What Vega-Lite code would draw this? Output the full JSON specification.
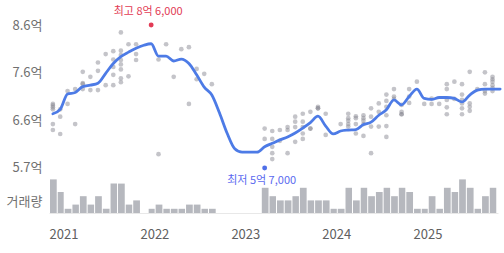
{
  "$schema": "https://vega.github.io/schema/vega-lite/v6.json",
  "width": 449,
  "height": 208,
  "autosize": {"type": "none"},
  "padding": {"left": 49, "top": 5, "right": 6, "bottom": 40},
  "config": {"view": {"stroke": null}, "font": "Noto Sans CJK KR"},
  "datasets": {
    "vol": [
      {"m":"2021-01","n":8},{"m":"2021-02","n":5},{"m":"2021-03","n":1},{"m":"2021-04","n":2},{"m":"2021-05","n":4},{"m":"2021-06","n":2},{"m":"2021-07","n":4},{"m":"2021-08","n":1},{"m":"2021-09","n":7},{"m":"2021-10","n":7},{"m":"2021-11","n":2},{"m":"2021-12","n":3},
      {"m":"2022-02","n":1},{"m":"2022-03","n":2},{"m":"2022-04","n":1},{"m":"2022-05","n":1},{"m":"2022-06","n":1},{"m":"2022-07","n":2},{"m":"2022-08","n":2},{"m":"2022-09","n":1},{"m":"2022-10","n":1},
      {"m":"2023-05","n":6},{"m":"2023-06","n":4},{"m":"2023-07","n":3},{"m":"2023-08","n":3},{"m":"2023-09","n":4},{"m":"2023-10","n":6},{"m":"2023-11","n":3},{"m":"2023-12","n":3},
      {"m":"2024-01","n":3},{"m":"2024-02","n":1},{"m":"2024-03","n":1},{"m":"2024-04","n":6},{"m":"2024-05","n":3},{"m":"2024-06","n":6},{"m":"2024-07","n":4},{"m":"2024-08","n":5},{"m":"2024-09","n":6},{"m":"2024-10","n":4},{"m":"2024-11","n":6},{"m":"2024-12","n":5},
      {"m":"2025-01","n":1},{"m":"2025-02","n":1},{"m":"2025-03","n":4},{"m":"2025-04","n":1},{"m":"2025-05","n":6},{"m":"2025-06","n":5},{"m":"2025-07","n":8},{"m":"2025-08","n":6},{"m":"2025-09","n":1},{"m":"2025-10","n":4},{"m":"2025-11","n":6}
    ],
    "trend": [
      {"m":"2021-01","v":6.80},{"m":"2021-02","v":6.89},{"m":"2021-03","v":7.20},{"m":"2021-04","v":7.23},{"m":"2021-05","v":7.35},{"m":"2021-06","v":7.38},{"m":"2021-07","v":7.42},{"m":"2021-08","v":7.62},{"m":"2021-09","v":7.82},{"m":"2021-10","v":7.96},{"m":"2021-11","v":8.05},{"m":"2021-12","v":8.13},
      {"m":"2022-01","v":8.19},{"m":"2022-02","v":8.22},{"m":"2022-03","v":7.97},{"m":"2022-04","v":7.97},{"m":"2022-05","v":7.87},{"m":"2022-06","v":7.91},{"m":"2022-07","v":7.82},{"m":"2022-08","v":7.59},{"m":"2022-09","v":7.34},{"m":"2022-10","v":7.18},{"m":"2022-11","v":6.82},{"m":"2022-12","v":6.41},
      {"m":"2023-01","v":6.09},{"m":"2023-02","v":6.02},{"m":"2023-03","v":6.02},{"m":"2023-04","v":6.02},{"m":"2023-05","v":6.13},{"m":"2023-06","v":6.20},{"m":"2023-07","v":6.27},{"m":"2023-08","v":6.33},{"m":"2023-09","v":6.41},{"m":"2023-10","v":6.51},{"m":"2023-11","v":6.62},{"m":"2023-12","v":6.75},
      {"m":"2024-01","v":6.55},{"m":"2024-02","v":6.39},{"m":"2024-03","v":6.45},{"m":"2024-04","v":6.47},{"m":"2024-05","v":6.48},{"m":"2024-06","v":6.58},{"m":"2024-07","v":6.63},{"m":"2024-08","v":6.77},{"m":"2024-09","v":6.88},{"m":"2024-10","v":7.08},{"m":"2024-11","v":6.98},{"m":"2024-12","v":7.15},
      {"m":"2025-01","v":7.30},{"m":"2025-02","v":7.11},{"m":"2025-03","v":7.09},{"m":"2025-04","v":7.13},{"m":"2025-05","v":7.13},{"m":"2025-06","v":7.11},{"m":"2025-07","v":7.04},{"m":"2025-08","v":7.18},{"m":"2025-09","v":7.28},{"m":"2025-10","v":7.30},{"m":"2025-11","v":7.30},{"m":"2025-12","v":7.30}
    ],
    "trades": [
      {"m":"2021-01","p":7.00},{"m":"2021-01","p":6.97},{"m":"2021-01","p":6.93},{"m":"2021-01","p":6.89},{"m":"2021-01","p":6.59},{"m":"2021-01","p":6.47},
      {"m":"2021-02","p":6.89},{"m":"2021-02","p":6.74},{"m":"2021-02","p":6.39},
      {"m":"2021-03","p":7.26},{"m":"2021-03","p":7.00},
      {"m":"2021-04","p":7.30},{"m":"2021-04","p":6.59},
      {"m":"2021-05","p":7.65},{"m":"2021-05","p":7.42},{"m":"2021-05","p":7.40},{"m":"2021-05","p":7.30},
      {"m":"2021-06","p":7.55},{"m":"2021-06","p":7.28},
      {"m":"2021-07","p":7.84},{"m":"2021-07","p":7.67},{"m":"2021-07","p":7.28},
      {"m":"2021-08","p":8.01},{"m":"2021-08","p":7.38},
      {"m":"2021-09","p":8.07},{"m":"2021-09","p":7.90},{"m":"2021-09","p":7.75},{"m":"2021-09","p":7.59},{"m":"2021-09","p":7.38},
      {"m":"2021-10","p":8.45},{"m":"2021-10","p":8.08},{"m":"2021-10","p":7.99},{"m":"2021-10","p":7.89},{"m":"2021-10","p":7.80},{"m":"2021-10","p":7.70},{"m":"2021-10","p":7.52},{"m":"2021-10","p":7.44},
      {"m":"2021-11","p":8.21},{"m":"2021-11","p":7.56},
      {"m":"2021-12","p":8.21},{"m":"2021-12","p":8.01},{"m":"2021-12","p":7.89},
      {"m":"2022-03","p":7.90},{"m":"2022-03","p":5.98},
      {"m":"2022-04","p":8.21},{"m":"2022-05","p":7.55},{"m":"2022-06","p":8.11},
      {"m":"2022-07","p":8.15},{"m":"2022-07","p":7.00},
      {"m":"2022-08","p":7.71},{"m":"2022-08","p":7.50},
      {"m":"2022-09","p":7.61},{"m":"2022-10","p":7.40},
      {"m":"2023-05","p":6.50},{"m":"2023-05","p":6.29},
      {"m":"2023-06","p":6.45},{"m":"2023-06","p":6.29},{"m":"2023-06","p":6.13},{"m":"2023-06","p":6.00},{"m":"2023-06","p":5.88},
      {"m":"2023-07","p":6.47},{"m":"2023-07","p":6.25},
      {"m":"2023-08","p":6.53},{"m":"2023-08","p":6.47},{"m":"2023-08","p":6.00},
      {"m":"2023-09","p":6.74},{"m":"2023-09","p":6.64},{"m":"2023-09","p":6.53},{"m":"2023-09","p":6.23},
      {"m":"2023-10","p":6.80},{"m":"2023-10","p":6.64},{"m":"2023-10","p":6.53},{"m":"2023-10","p":6.40},{"m":"2023-10","p":6.29},
      {"m":"2023-11","p":6.84},{"m":"2023-11","p":6.50},{"m":"2023-11","p":6.50},
      {"m":"2023-12","p":6.94},{"m":"2023-12","p":6.91},{"m":"2023-12","p":6.91},
      {"m":"2024-01","p":6.80},{"m":"2024-01","p":6.37},
      {"m":"2024-03","p":6.59},
      {"m":"2024-04","p":6.80},{"m":"2024-04","p":6.71},{"m":"2024-04","p":6.66},{"m":"2024-04","p":6.59},{"m":"2024-04","p":6.54},
      {"m":"2024-05","p":6.75},{"m":"2024-05","p":6.71},{"m":"2024-05","p":6.59},{"m":"2024-05","p":6.40},
      {"m":"2024-06","p":6.77},{"m":"2024-06","p":6.71},{"m":"2024-06","p":6.66},{"m":"2024-06","p":6.59},{"m":"2024-06","p":6.35},
      {"m":"2024-07","p":6.91},{"m":"2024-07","p":6.74},{"m":"2024-07","p":6.54},{"m":"2024-07","p":6.00},
      {"m":"2024-08","p":7.01},{"m":"2024-08","p":6.84},{"m":"2024-08","p":6.54},
      {"m":"2024-09","p":7.19},{"m":"2024-09","p":7.06},{"m":"2024-09","p":6.94},{"m":"2024-09","p":6.77},{"m":"2024-09","p":6.55},{"m":"2024-09","p":6.33},
      {"m":"2024-10","p":7.30},{"m":"2024-10","p":7.15},{"m":"2024-10","p":7.10},
      {"m":"2024-11","p":6.98},{"m":"2024-11","p":6.84},{"m":"2024-11","p":6.79},{"m":"2024-11","p":6.79},
      {"m":"2024-12","p":7.30},{"m":"2024-12","p":7.15},{"m":"2024-12","p":7.02},
      {"m":"2025-01","p":7.45},{"m":"2025-02","p":7.00},
      {"m":"2025-03","p":7.11},{"m":"2025-03","p":7.00},
      {"m":"2025-04","p":7.00},
      {"m":"2025-05","p":7.40},{"m":"2025-05","p":7.30},{"m":"2025-05","p":7.08},{"m":"2025-05","p":6.93},{"m":"2025-05","p":6.79},
      {"m":"2025-06","p":7.45},{"m":"2025-06","p":7.10},
      {"m":"2025-07","p":7.40},{"m":"2025-07","p":7.19},{"m":"2025-07","p":7.08},{"m":"2025-07","p":7.01},{"m":"2025-07","p":6.91},{"m":"2025-07","p":6.79},
      {"m":"2025-08","p":7.65},{"m":"2025-08","p":7.01},{"m":"2025-08","p":6.94},{"m":"2025-08","p":6.86},
      {"m":"2025-09","p":7.30},
      {"m":"2025-10","p":7.64},{"m":"2025-10","p":7.40},{"m":"2025-10","p":7.26},{"m":"2025-10","p":7.21},
      {"m":"2025-11","p":7.55},{"m":"2025-11","p":7.50},{"m":"2025-11","p":7.45},{"m":"2025-11","p":7.38},{"m":"2025-11","p":7.32},{"m":"2025-11","p":7.26}
    ],
    "ext": [
      {"m":"2022-02","p":8.6,"t":"최고 8억 6,000","k":"max"},
      {"m":"2023-05","p":5.7,"t":"최저 5억 7,000","k":"min"}
    ]
  },
  "layer": [
    {
      "data": {"name": "vol"},
      "mark": {"type": "bar", "color": "#b6b8be"},
      "encoding": {
        "x": {
          "field": "m", "timeUnit": "utcyearmonth", "type": "temporal",
          "scale": {"domain": [{"year": 2021, "month": 1, "date": 1, "utc": true}, {"year": 2025, "month": 12, "date": 8, "utc": true}]},
          "axis": {
            "values": [{"year": 2021, "month": 1, "date": 1, "utc": true}, {"year": 2022, "month": 1, "date": 1, "utc": true}, {"year": 2023, "month": 1, "date": 1, "utc": true}, {"year": 2024, "month": 1, "date": 1, "utc": true}, {"year": 2025, "month": 1, "date": 1, "utc": true}],
            "format": "%Y", "title": null, "labelAlign": "left", "labelFlush": false, "ticks": false, "grid": false,
            "domainColor": "#e8e8e8", "labelPadding": 15, "labelFontSize": 13, "labelColor": "#606060"
          }
        },
        "y": {"field": "n", "type": "quantitative", "scale": {"domain": [0, 49.5], "nice": false}, "axis": null}
      }
    },
    {
      "layer": [
        {
          "data": {"name": "trades"},
          "mark": {"type": "circle", "size": 22, "color": "#8a8a94", "opacity": 0.5},
          "encoding": {
            "x": {"field": "m", "timeUnit": "utcyearmonth", "type": "temporal", "bandPosition": 0.5},
            "y": {
              "field": "p", "type": "quantitative",
              "scale": {"domain": [4.787, 9.006], "zero": false, "nice": false},
              "axis": {
                "values": [5.02, 5.7, 6.6667, 7.6333, 8.6],
                "labelExpr": "datum.value < 5.5 ? '거래량' : format(floor(datum.value * 10 + 0.001) / 10, '.1f') + '억'",
                "title": null, "ticks": false, "domain": false, "labelPadding": 7,
                "labelFontSize": 13, "labelColor": "#707070", "gridColor": "#efefef",
                "gridOpacity": {"condition": {"test": "datum.value < 5.5", "value": 0}, "value": 1}
              }
            }
          }
        },
        {
          "data": {"name": "trend"},
          "mark": {"type": "line", "color": "#4d7be6", "strokeWidth": 2.8, "interpolate": "monotone", "strokeCap": "round"},
          "encoding": {
            "x": {"field": "m", "timeUnit": "utcyearmonth", "type": "temporal", "bandPosition": 0.5},
            "y": {"field": "v", "type": "quantitative"}
          }
        },
        {
          "data": {"name": "ext"},
          "mark": {"type": "circle", "size": 24, "opacity": 1},
          "encoding": {
            "x": {"field": "m", "timeUnit": "utcyearmonth", "type": "temporal", "bandPosition": 0.5},
            "y": {"field": "p", "type": "quantitative"},
            "color": {"field": "k", "type": "nominal", "scale": {"domain": ["max", "min"], "range": ["#e23b55", "#4f6fe8"]}, "legend": null}
          }
        },
        {
          "data": {"name": "ext"},
          "transform": [{"filter": "datum.k == 'max'"}],
          "mark": {"type": "text", "fontSize": 11, "dy": -13, "dx": -3, "color": "#e23b55", "baseline": "middle"},
          "encoding": {
            "x": {"field": "m", "timeUnit": "utcyearmonth", "type": "temporal", "bandPosition": 0.5},
            "y": {"field": "p", "type": "quantitative"},
            "text": {"field": "t"}
          }
        },
        {
          "data": {"name": "ext"},
          "transform": [{"filter": "datum.k == 'min'"}],
          "mark": {"type": "text", "fontSize": 11, "dy": 13, "dx": -3, "color": "#5b6af0", "baseline": "middle"},
          "encoding": {
            "x": {"field": "m", "timeUnit": "utcyearmonth", "type": "temporal", "bandPosition": 0.5},
            "y": {"field": "p", "type": "quantitative"},
            "text": {"field": "t"}
          }
        }
      ]
    }
  ],
  "resolve": {"scale": {"y": "independent"}, "axis": {"y": "independent"}}
}
